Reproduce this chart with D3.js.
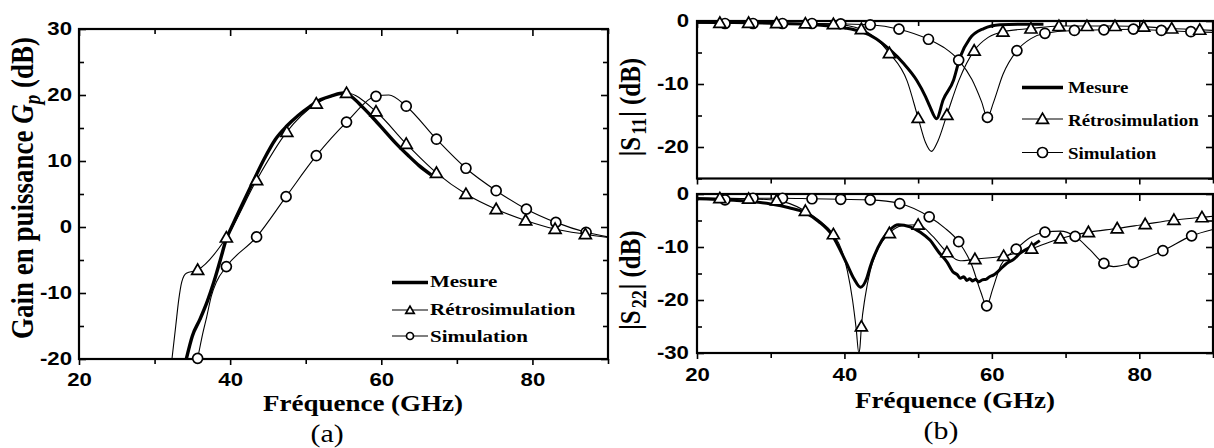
<!DOCTYPE html>
<html><head><meta charset="utf-8">
<script src="https://cdn.jsdelivr.net/npm/d3@7"></script>
<style>html,body{margin:0;padding:0;background:#fff}svg{display:block}</style>
</head><body><svg id="c" width="1214" height="448"></svg>
<script>
// ---------------- DATA ----------------
const legendLabels = ['Mesure', 'Rétrosimulation', 'Simulation'];
const xMajor = [20, 40, 60, 80];
const xMinor = [30, 50, 70, 90];
const gainMajor = [-20, -10, 0, 10, 20, 30];
const gainMinor = [-15, -5, 5, 15, 25];
const s11Major = [-20, -10, 0];
const s11Minor = [-25, -15, -5];
const s22Major = [-30, -20, -10, 0];
const s22Minor = [-25, -15, -5];

// (a) Gain en puissance
const gainMesF = [34.2,35,36,37,37.8,38.7,39.5,40.2,41.5,43,44.5,46,47.5,49,50.5,52,53.5,55,56,57.5,59,60.5,62,63.5,65,66.6];
const gainMesV = [-20,-16.5,-14,-11.2,-8.5,-5,-1.8,0,3.2,6.8,10.3,13.3,15.3,16.9,18.2,19.3,19.9,20.3,19.8,18.2,16.4,14.5,12.6,10.9,9.3,7.9];
const gainRetF = [32.3,32.8,33.2,33.6,34.2,35.7,39.5,43.5,47.5,51.4,55.4,59.3,63.3,67.3,71.2,75.2,79.1,83.0,87.0,90];
const gainRetV = [-20,-15,-11,-8.3,-7.0,-6.5,-1.6,7.1,14.4,18.7,20.3,17.5,12.6,8.2,5.0,2.7,1.0,-0.3,-1.1,-1.6];
const gainRetMkF = [35.7,39.5,43.5,47.5,51.4,55.4,59.3,63.3,67.3,71.2,75.2,79.1,83.0,87.0];
const gainRetMkV = [-6.5,-1.6,7.1,14.4,18.7,20.3,17.5,12.6,8.2,5.0,2.7,1.0,-0.3,-1.1];
const gainSimF = [35.3,35.7,36.4,36.9,37.5,38.2,39.5,43.5,47.4,51.4,55.4,59.3,61,63.3,67.3,71.2,75.2,79.2,83.1,87.1,90];
const gainSimV = [-22,-19.9,-16,-13.6,-10.5,-8.3,-6.0,-1.5,4.6,10.8,15.9,19.8,20.0,18.3,13.3,8.9,5.5,2.7,0.7,-0.8,-1.5];
const gainSimMkF = [35.7,39.5,43.5,47.4,51.4,55.4,59.3,63.3,67.3,71.2,75.2,79.2,83.1,87.1];
const gainSimMkV = [-19.9,-6.0,-1.5,4.6,10.8,15.9,19.8,18.3,13.3,8.9,5.5,2.7,0.7,-0.8];

// (b) |S11|
const s11MesF = [20,25,30,35,38,40,42.3,44.3,46.2,48,49.8,51,51.6,52.5,53.4,54.8,55.7,57,58.9,61.1,64,67];
const s11MesV = [-0.2,-0.25,-0.35,-0.5,-0.8,-1.1,-1.7,-2.8,-4.6,-6.7,-9.4,-12,-13.6,-15.5,-12.5,-9.4,-5.7,-2.8,-1.2,-0.6,-0.5,-0.5];
const s11RetF = [20,23.1,27,30.8,34.7,38.5,42.3,46.1,48.5,50.0,51,51.8,52.7,53.9,55.5,57.6,59.5,61.5,65.3,69.1,72.9,76.7,80.6,84.4,88.2,90];
const s11RetV = [-0.3,-0.3,-0.3,-0.35,-0.4,-0.5,-1.3,-5.1,-9.5,-15.4,-19.3,-20.7,-19,-14.9,-9.5,-4.7,-2.6,-1.7,-1.2,-0.8,-0.8,-0.8,-0.9,-1.2,-1.4,-1.5];
const s11RetMkF = [23.1,27,30.8,34.7,38.5,42.3,46.1,50.0,53.9,57.6,61.5,65.3,69.1,72.9,76.7,80.6,84.4,88.2];
const s11RetMkV = [-0.3,-0.3,-0.35,-0.4,-0.5,-1.3,-5.1,-15.4,-14.9,-4.7,-1.7,-1.2,-0.8,-0.8,-0.8,-0.9,-1.2,-1.4];
const s11SimF = [20,23.8,27.6,31.6,35.6,39.5,43.5,47.4,51.4,53.5,55.5,57.3,58.6,59.4,60.2,61.5,63.4,65.3,67.2,71.2,75.2,79.2,83.0,87.0,90];
const s11SimV = [-0.3,-0.4,-0.4,-0.4,-0.4,-0.45,-0.6,-1.3,-2.9,-4.2,-6.2,-9.3,-12.8,-15.3,-13,-8.5,-4.7,-2.8,-1.95,-1.5,-1.4,-1.3,-1.5,-1.7,-1.8];
const s11SimMkF = [23.8,27.6,31.6,35.6,39.5,43.5,47.4,51.4,55.5,59.4,63.4,67.2,71.2,75.2,79.2,83.0,87.0];
const s11SimMkV = [-0.4,-0.4,-0.4,-0.4,-0.45,-0.6,-1.3,-2.9,-6.2,-15.3,-4.7,-1.95,-1.5,-1.4,-1.3,-1.5,-1.7];

// (b) |S22|
const s22MesF = [20,25,30,32.5,34.7,36.5,38.3,40.3,41.3,42.2,43,43.5,45.1,46.2,47.3,48.9,50.3,51.6,52.8,53.9,54.8,55.3,55.7,56.2,56.6,57.0,57.4,57.8,58.2,58.7,59.2,59.7,60.2,61,62,63,63.8,65,66.5];
const s22MesV = [-0.9,-1.2,-1.9,-2.6,-3.5,-5.2,-7.7,-13.1,-16,-17.6,-16,-13.7,-8.7,-6.7,-5.8,-6.2,-7.2,-8.7,-11,-12.8,-14.8,-15.2,-15.9,-15.6,-16.3,-16.0,-16.4,-16.1,-16.6,-16.2,-16.1,-15.6,-15.3,-14.4,-13.1,-12.3,-11.2,-10.2,-8.8];
const s22RetF = [20,23.1,27,30.8,34.7,36.6,38.5,39.6,40.4,41.1,41.6,41.95,42.1,42.3,42.8,43.5,44.5,46.1,47.8,50.0,52,53.9,55.7,57.7,61.6,65.4,69.3,73.1,77.0,80.8,84.7,88.5,90];
const s22RetV = [-0.7,-0.8,-0.9,-1.2,-3.2,-5,-7.6,-10.5,-14.5,-20,-25.5,-30,-29,-25.0,-19.5,-14.5,-10.5,-7.4,-6.0,-5.8,-8,-11.0,-12.6,-12.3,-11.7,-10.3,-8.4,-7.2,-6.5,-5.7,-4.9,-4.4,-4.2];
const s22RetMkF = [23.1,27,30.8,34.7,38.5,42.3,46.1,50.0,53.9,57.7,61.6,65.4,69.3,73.1,77.0,80.8,84.7,88.5];
const s22RetMkV = [-0.8,-0.9,-1.2,-3.2,-7.6,-25.0,-7.4,-5.8,-11.0,-12.3,-11.7,-10.3,-8.4,-7.2,-6.5,-5.7,-4.9,-4.4];
const s22SimF = [20,23.8,27.6,31.6,35.6,39.5,43.5,47.5,51.5,53.5,55.5,57.3,58.5,59.3,60.1,61.2,63.3,65.2,67.2,69.3,71.3,73.3,75.2,76.5,79.2,83.2,87.1,90];
const s22SimV = [-1.0,-1.1,-0.8,-0.8,-0.9,-1.0,-1.1,-1.8,-4.3,-6.3,-9.0,-13.5,-18.5,-21.1,-18,-13.5,-10.4,-8.2,-7.2,-7.0,-8.0,-10.5,-13.1,-13.7,-12.9,-10.7,-7.9,-6.7];
const s22SimMkF = [23.8,27.6,31.6,35.6,39.5,43.5,47.5,51.5,55.5,59.3,63.3,67.2,71.3,75.2,79.2,83.2,87.1];
const s22SimMkV = [-1.1,-0.8,-0.8,-0.9,-1.0,-1.1,-1.8,-4.3,-9.0,-21.1,-10.4,-7.2,-8.0,-13.1,-12.9,-10.7,-7.9];

// ---------------- DRAWING ----------------
const zip = (a, b) => a.map((v, i) => [v, b[i]]);
const SANS = '"Liberation Sans", Arial, sans-serif';
const SERIF = '"Liberation Serif", "Times New Roman", serif';
const svg = d3.select('#c');
svg.append('rect').attr('width', 1214).attr('height', 448).attr('fill', '#fff');
const defs = svg.append('defs');

function styleAxis(sel, sx) {
  sel.select('.domain').remove();
  sel.selectAll('line').attr('stroke', '#000').attr('stroke-width', 1.6);
  sel.selectAll('text').attr('font-family', SANS).attr('font-weight', 'bold')
    .attr('font-size', 18.5).attr('fill', '#000').attr('transform', `scale(${sx},1)`);
}
const fmt = d => String(d);

function panel(p) {
  const x = d3.scaleLinear().domain([20, 90]).range([p.l, p.r]);
  const y = d3.scaleLinear().domain(p.yd).range([p.b, p.t]);
  const cid = 'clip' + p.id;
  defs.append('clipPath').attr('id', cid).append('rect')
    .attr('x', p.l).attr('y', p.t).attr('width', p.r - p.l).attr('height', p.b - p.t);
  const g = svg.append('g');
  g.append('g').attr('transform', `translate(0,${p.b})`)
    .call(d3.axisBottom(x).tickValues(xMajor).tickSize(6).tickSizeOuter(0).tickPadding(p.xpad)
      .tickFormat(p.xlab ? fmt : () => '')).call(s => styleAxis(s, 1.2));
  g.append('g').attr('transform', `translate(0,${p.b})`)
    .call(d3.axisBottom(x).tickValues(xMinor).tickSize(5).tickSizeOuter(0).tickFormat(() => '')).call(s => styleAxis(s, 1));
  g.append('g').attr('transform', `translate(0,${p.t})`)
    .call(d3.axisTop(x).tickValues(xMajor).tickSize(-7).tickSizeOuter(0).tickFormat(() => '')).call(s => styleAxis(s, 1));
  g.append('g').attr('transform', `translate(0,${p.t})`)
    .call(d3.axisTop(x).tickValues(xMinor).tickSize(-5).tickSizeOuter(0).tickFormat(() => '')).call(s => styleAxis(s, 1));
  g.append('g').attr('transform', `translate(${p.l},0)`)
    .call(d3.axisLeft(y).tickValues(p.yMaj).tickSize(-7).tickSizeOuter(0).tickPadding(p.ypad).tickFormat(fmt)).call(s => styleAxis(s, 1.2));
  g.append('g').attr('transform', `translate(${p.l},0)`)
    .call(d3.axisLeft(y).tickValues(p.yMin).tickSize(-5).tickSizeOuter(0).tickFormat(() => '')).call(s => styleAxis(s, 1));
  g.append('g').attr('transform', `translate(${p.r},0)`)
    .call(d3.axisRight(y).tickValues(p.yMaj).tickSize(-7).tickSizeOuter(0).tickFormat(() => '')).call(s => styleAxis(s, 1));
  g.append('g').attr('transform', `translate(${p.r},0)`)
    .call(d3.axisRight(y).tickValues(p.yMin).tickSize(-5).tickSizeOuter(0).tickFormat(() => '')).call(s => styleAxis(s, 1));
  g.append('rect').attr('x', p.l).attr('y', p.t).attr('width', p.r - p.l).attr('height', p.b - p.t)
    .attr('fill', 'none').attr('stroke', '#000').attr('stroke-width', 2.2);

  const line = d3.line().x(d => x(d[0])).y(d => y(d[1])).curve(d3.curveMonotoneX);
  const lg = g.append('g').attr('clip-path', `url(#${cid})`);
  p.series.forEach(s => {
    lg.append('path').datum(zip(s.f, s.v)).attr('d', line).attr('fill', 'none')
      .attr('stroke', '#000').attr('stroke-width', s.w).attr('stroke-linejoin', 'round');
  });
  const mg = g.append('g');
  p.series.forEach(s => {
    if (!s.mk) return;
    const pts = zip(s.mf, s.mv);
    if (s.mk === 'tri') {
      mg.selectAll(null).data(pts).join('path')
        .attr('d', d3.symbol(d3.symbolTriangle, 62)())
        .attr('transform', d => `translate(${x(d[0])},${y(d[1]) + 1})`)
        .attr('fill', '#fff').attr('stroke', '#000').attr('stroke-width', 1.7);
    } else {
      mg.selectAll(null).data(pts).join('circle')
        .attr('cx', d => x(d[0])).attr('cy', d => y(d[1])).attr('r', 5)
        .attr('fill', '#fff').attr('stroke', '#000').attr('stroke-width', 1.7);
    }
  });
  return { x, y, g };
}

function legend(lx0, lx1, tx, ly, ty, fs, sx, mkScale) {
  const lg = svg.append('g');
  const kinds = [null, 'tri', 'circ'];
  legendLabels.forEach((lab, i) => {
    lg.append('line').attr('x1', lx0).attr('x2', lx1).attr('y1', ly[i]).attr('y2', ly[i])
      .attr('stroke', '#000').attr('stroke-width', i === 0 ? 3.5 : 1.2);
    const cx = (lx0 + lx1) / 2;
    if (kinds[i] === 'tri') {
      lg.append('path').attr('d', d3.symbol(d3.symbolTriangle, 62 * mkScale * mkScale)())
        .attr('transform', `translate(${cx},${ly[i] + 1})`).attr('fill', '#fff').attr('stroke', '#000').attr('stroke-width', 1.7);
    } else if (kinds[i] === 'circ') {
      lg.append('circle').attr('cx', cx).attr('cy', ly[i]).attr('r', 5 * mkScale)
        .attr('fill', '#fff').attr('stroke', '#000').attr('stroke-width', 1.7);
    }
    lg.append('text').attr('transform', `translate(${tx},${ty[i]}) scale(${sx},1)`)
      .attr('font-family', SERIF).attr('font-weight', 'bold').attr('font-size', fs).text(lab);
  });
}

function title(x, y, sx, fs, str, weight) {
  return svg.append('text').attr('transform', `translate(${x},${y}) scale(${sx},1)`)
    .attr('text-anchor', 'middle').attr('font-family', SERIF).attr('font-weight', weight || 'bold')
    .attr('font-size', fs).text(str);
}

panel({ id: 'a', l: 79, r: 608, t: 29, b: 359, yd: [-20, 30], yMaj: gainMajor, yMin: gainMinor,
  xlab: true, xpad: 8, ypad: 5.8,
  series: [
    { f: gainSimF, v: gainSimV, w: 1.1, mk: 'circ', mf: gainSimMkF, mv: gainSimMkV },
    { f: gainRetF, v: gainRetV, w: 1.1, mk: 'tri', mf: gainRetMkF, mv: gainRetMkV },
    { f: gainMesF, v: gainMesV, w: 3.4 }
  ] });
panel({ id: 'b1', l: 697, r: 1213, t: 21, b: 178.5, yd: [-25, 0], yMaj: s11Major, yMin: s11Minor,
  xlab: false, xpad: 10, ypad: 6.7,
  series: [
    { f: s11SimF, v: s11SimV, w: 1.1, mk: 'circ', mf: s11SimMkF, mv: s11SimMkV },
    { f: s11RetF, v: s11RetV, w: 1.1, mk: 'tri', mf: s11RetMkF, mv: s11RetMkV },
    { f: s11MesF, v: s11MesV, w: 3 }
  ] });
panel({ id: 'b2', l: 697, r: 1213, t: 194, b: 353, yd: [-30, 0], yMaj: s22Major, yMin: s22Minor,
  xlab: true, xpad: 9, ypad: 6.7,
  series: [
    { f: s22SimF, v: s22SimV, w: 1.1, mk: 'circ', mf: s22SimMkF, mv: s22SimMkV },
    { f: s22RetF, v: s22RetV, w: 1.1, mk: 'tri', mf: s22RetMkF, mv: s22RetMkV },
    { f: s22MesF, v: s22MesV, w: 3 }
  ] });

legend(392, 428, 430, [282.5, 310, 336], [287, 315, 342], 17.5, 1.2, 0.7);
legend(1022, 1063, 1068, [87.5, 119, 152.5], [93, 126, 159], 17.5, 1.08, 1);

title(363, 411, 1.2, 22.5, 'Fréquence (GHz)');
title(955, 407.5, 1.2, 22.5, 'Fréquence (GHz)');
title(327, 442, 1.15, 26, '(a)', 'normal');
title(941, 439, 1.15, 26, '(b)', 'normal');

const yt = svg.append('text').attr('transform', 'translate(33,188) scale(1.17,1) rotate(-90)')
  .attr('text-anchor', 'middle').attr('font-family', SERIF).attr('font-weight', 'bold').attr('font-size', 27);
yt.append('tspan').text('Gain en puissance ');
yt.append('tspan').attr('font-style', 'italic').text('G');
yt.append('tspan').attr('font-style', 'italic').attr('font-size', 19).attr('dy', 6).text('p');
yt.append('tspan').attr('dy', -6).text(' (dB)');

function sLabel(cx, cy, sub) {
  const t = svg.append('text').attr('transform', `translate(${cx},${cy}) scale(1.15,1) rotate(-90)`)
    .attr('text-anchor', 'middle').attr('font-family', SERIF).attr('font-weight', 'bold').attr('font-size', 25);
  t.append('tspan').text('|S');
  t.append('tspan').attr('font-size', 18).attr('dy', 5).attr('dx', 2).text(sub);
  t.append('tspan').attr('dy', -5).attr('dx', 1).text('|');
  t.append('tspan').text(' (dB)');
}
sLabel(640, 107, '11');
sLabel(640, 280, '22');
</script></body></html>
